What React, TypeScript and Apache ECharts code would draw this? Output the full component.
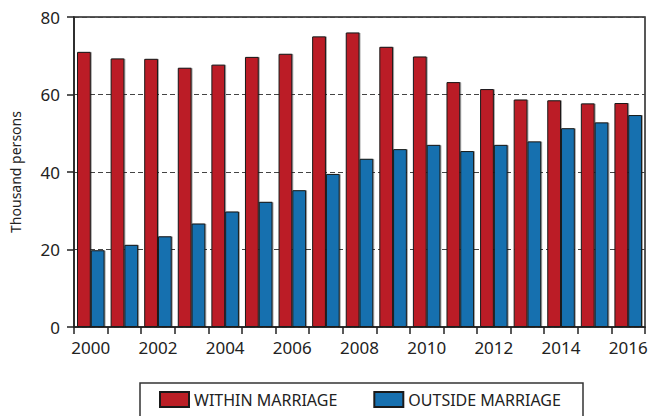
import React, { useEffect, useRef } from "react";
import * as echarts from "echarts";

const years = ["2000","2001","2002","2003","2004","2005","2006","2007","2008","2009","2010","2011","2012","2013","2014","2015","2016"];
const withinMarriage = [71.0, 69.3, 69.2, 66.9, 67.7, 69.7, 70.5, 75.0, 76.0, 72.3, 69.8, 63.2, 61.4, 58.7, 58.5, 57.7, 57.8];
const outsideMarriage = [19.8, 21.2, 23.4, 26.7, 29.8, 32.3, 35.3, 39.5, 43.4, 45.9, 47.0, 45.4, 47.0, 47.9, 51.3, 52.8, 54.7];
const seriesNames = ["WITHIN MARRIAGE", "OUTSIDE MARRIAGE"];
const yTicks = { min: 0, max: 80, interval: 20 };
const yName = "Thousand persons";

const RED = "#BB1F26";
const BLUE = "#1770AF";
const FONT = "Noto Sans";

export default function App() {
  const ref = useRef<HTMLDivElement>(null);
  useEffect(() => {
    const chart = echarts.init(ref.current!, null, { renderer: "svg" });
    const barStyle = (color: string) => ({
      color,
      borderColor: "#1a1a1a",
      borderWidth: 1,
      shadowColor: "rgba(0,0,0,0.35)",
      shadowBlur: 1,
      shadowOffsetX: 1,
      shadowOffsetY: 0,
    });
    chart.setOption({
      animation: false,
      textStyle: { fontFamily: FONT },
      grid: {
        left: 74,
        right: 6,
        top: 17,
        bottom: 89,
        show: true,
        borderColor: "#222",
        borderWidth: 1.5,
        backgroundColor: "transparent",
      },
      graphic: [
        {
          type: "rect",
          shape: { x: 140, y: 383, width: 443, height: 40 },
          style: { fill: "none", stroke: "#333", lineWidth: 1.5 },
        },
      ],
      legend: {
        left: 159,
        top: 391,
        icon: "rect",
        itemWidth: 29,
        itemHeight: 15,
        itemGap: 36,
        padding: 0,
        textStyle: { fontFamily: FONT, fontSize: 16, color: "#222" },
        data: seriesNames,
      },
      xAxis: {
        type: "category",
        data: years,
        axisLine: { lineStyle: { color: "#222", width: 1.5 } },
        axisTick: { show: true, interval: 0, length: 7, lineStyle: { color: "#222", width: 1.5 } },
        axisLabel: { interval: 1, fontSize: 17, color: "#222", margin: 12, fontFamily: FONT },
      },
      yAxis: {
        type: "value",
        min: yTicks.min,
        max: yTicks.max,
        interval: yTicks.interval,
        name: yName,
        nameLocation: "middle",
        nameGap: 52,
        nameTextStyle: { fontSize: 14, color: "#222", fontFamily: FONT },
        axisLine: { show: true, lineStyle: { color: "#222", width: 1.5 } },
        axisTick: { show: true, length: 7, lineStyle: { color: "#222", width: 1.5 } },
        axisLabel: { fontSize: 17, color: "#222", margin: 14, fontFamily: FONT },
        splitLine: { show: true, lineStyle: { color: "#444", type: [5, 3], width: 1 } },
      },
      series: [
        {
          name: seriesNames[0],
          type: "bar",
          data: withinMarriage,
          barGap: "0%",
          barCategoryGap: "18%",
          itemStyle: barStyle(RED),
        },
        {
          name: seriesNames[1],
          type: "bar",
          data: outsideMarriage,
          barGap: "0%",
          barCategoryGap: "18%",
          itemStyle: barStyle(BLUE),
        },
      ],
    });
    return () => chart.dispose();
  }, []);
  return <div ref={ref} style={{ width: 651, height: 416, position: "absolute", left: 0, top: 0 }} />;
}
